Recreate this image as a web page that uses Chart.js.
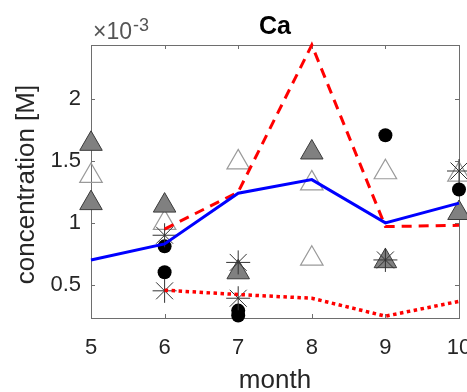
<!DOCTYPE html>
<html lang="en">
<head>
    <meta charset="UTF-8">
    <title>Ca concentration by month</title>
    <script src="https://cdn.jsdelivr.net/npm/chart.js"></script>
    <style>
        html, body { margin: 0; padding: 0; background: #fff; }
        #caChart { display: block; }
    </style>
</head>
<body>

    <canvas id="caChart" width="467" height="392"></canvas>

    <script>
        // values are in units of 1e-3 M
        const months = [5, 6, 7, 8, 9, 10];
        const meanLine = [0.70, 0.83, 1.24, 1.35, 1.00, 1.16];

        const modelMonths = [6, 7, 8, 9, 10];
        const upperLine = [0.95, 1.25, 2.44, 0.97, 0.98];
        const lowerLine = [0.455, 0.42, 0.39, 0.245, 0.365];

        const filledTriMonths = [5, 5, 6, 7, 8, 9, 10];
        const filledTriValues = [1.64, 1.16, 1.14, 0.60, 1.57, 0.69, 1.08];

        const openTriMonths = [5, 6, 7, 8, 8, 9, 10];
        const openTriValues = [1.38, 1.00, 1.49, 1.32, 0.71, 1.41, 1.39];

        const dotMonths = [6, 6, 7, 7, 9, 10];
        const dotValues = [0.81, 0.60, 0.29, 0.25, 1.71, 1.27];

        const starMonths = [6, 6, 7, 7, 9, 10];
        const starValues = [0.90, 0.45, 0.68, 0.39, 0.70, 1.42];

        const yTicks = [0.5, 1, 1.5, 2];

        const pts = (xs, ys) => xs.map((x, i) => ({ x: x, y: ys[i] }));

        const FONT = '"Liberation Sans", Arial, sans-serif';
        const AXIS_COLOR = '#6e6e6e';
        const TEXT_COLOR = '#262626';

        // box around the plot with inward ticks, plus title and axis labels
        const matlabAxes = {
            id: 'matlabAxes',
            beforeDatasetsDraw(chart) {
                const { ctx, chartArea: a, scales } = chart;
                ctx.save();
                ctx.strokeStyle = AXIS_COLOR;
                ctx.lineWidth = 1;
                ctx.strokeRect(Math.round(a.left) + 0.5, Math.round(a.top) + 0.5,
                    Math.round(a.right - a.left), Math.round(a.bottom - a.top));
                ctx.beginPath();
                scales.x.ticks.forEach(t => {
                    const px = Math.round(scales.x.getPixelForValue(t.value)) + 0.5;
                    ctx.moveTo(px, a.bottom); ctx.lineTo(px, a.bottom - 4);
                    ctx.moveTo(px, a.top); ctx.lineTo(px, a.top + 4);
                });
                scales.y.ticks.forEach(t => {
                    const py = Math.round(scales.y.getPixelForValue(t.value)) + 0.5;
                    ctx.moveTo(a.left, py); ctx.lineTo(a.left + 4, py);
                    ctx.moveTo(a.right, py); ctx.lineTo(a.right - 4, py);
                });
                ctx.stroke();
                ctx.restore();
            },
            afterDraw(chart) {
                const { ctx, chartArea: a } = chart;
                const cx = (a.left + a.right) / 2;
                ctx.save();
                ctx.fillStyle = '#000';
                ctx.textAlign = 'center';
                ctx.textBaseline = 'alphabetic';
                ctx.font = 'bold 25px ' + FONT;
                ctx.fillText('Ca', cx, 34);

                ctx.fillStyle = TEXT_COLOR;
                ctx.font = '26px ' + FONT;
                ctx.fillText('month', cx, 388);

                ctx.save();
                ctx.translate(34, (a.top + a.bottom) / 2 + 3);
                ctx.rotate(-Math.PI / 2);
                ctx.fillText('concentration [M]', 0, 0);
                ctx.restore();

                // exponent marker above the y axis
                ctx.fillStyle = '#555';
                ctx.textAlign = 'left';
                ctx.font = '23px ' + FONT;
                ctx.fillText('\u00d710', 93, 39);
                const w = ctx.measureText('\u00d710').width;
                ctx.font = '18px ' + FONT;
                ctx.fillText('-3', 93 + w + 1, 31);
                ctx.restore();
            }
        };

        const ctx = document.getElementById('caChart').getContext('2d');
        new Chart(ctx, {
            data: {
                datasets: [
                    {
                        type: 'line',
                        data: pts(months, meanLine),
                        borderColor: '#0000ff',
                        borderWidth: 3,
                        pointRadius: 0,
                        tension: 0,
                        clip: false,
                        order: 1
                    },
                    {
                        type: 'line',
                        data: pts(modelMonths, upperLine),
                        borderColor: '#ff0000',
                        borderWidth: 3,
                        borderDash: [10, 7],
                        pointRadius: 0,
                        tension: 0,
                        clip: false,
                        order: 1
                    },
                    {
                        type: 'line',
                        data: pts(modelMonths, lowerLine),
                        borderColor: '#ff0000',
                        borderWidth: 3.5,
                        borderDash: [3.5, 3.5],
                        pointRadius: 0,
                        tension: 0,
                        clip: false,
                        order: 1
                    },
                    {
                        type: 'scatter',
                        data: pts(starMonths, starValues),
                        pointStyle: 'star',
                        pointRadius: 12,
                        borderColor: '#333333',
                        borderWidth: 1,
                        clip: false,
                        order: 2
                    },
                    {
                        type: 'scatter',
                        data: pts(dotMonths, dotValues),
                        pointStyle: 'circle',
                        pointRadius: 7,
                        backgroundColor: '#000000',
                        borderColor: '#000000',
                        borderWidth: 0,
                        clip: false,
                        order: 3
                    },
                    {
                        type: 'scatter',
                        data: pts(filledTriMonths, filledTriValues),
                        pointStyle: 'triangle',
                        pointRadius: 13,
                        backgroundColor: '#808080',
                        borderColor: '#3a3a3a',
                        borderWidth: 1,
                        clip: false,
                        order: 4
                    },
                    {
                        type: 'scatter',
                        data: pts(openTriMonths, openTriValues),
                        pointStyle: 'triangle',
                        pointRadius: 13,
                        backgroundColor: 'rgba(255,255,255,0)',
                        borderColor: '#9a9a9a',
                        borderWidth: 1.2,
                        clip: false,
                        order: 5
                    }
                ]
            },
            options: {
                responsive: false,
                animation: false,
                events: [],
                layout: {
                    autoPadding: false,
                    padding: { left: 0, top: 45, right: 8, bottom: 0 }
                },
                plugins: {
                    legend: { display: false },
                    tooltip: { enabled: false },
                    title: { display: false }
                },
                scales: {
                    x: {
                        type: 'linear',
                        min: 5,
                        max: 10,
                        grid: { display: false, drawTicks: false },
                        border: { display: false },
                        ticks: {
                            stepSize: 1,
                            padding: 17,
                            color: TEXT_COLOR,
                            font: { family: FONT, size: 22 },
                            maxRotation: 0
                        },
                        afterFit(scale) {
                            scale.height = 74;
                            scale.paddingLeft = 0;
                            scale.paddingRight = 0;
                        }
                    },
                    y: {
                        type: 'linear',
                        min: 0.23,
                        max: 2.44,
                        grid: { display: false, drawTicks: false },
                        border: { display: false },
                        afterBuildTicks(scale) {
                            scale.ticks = yTicks.map(v => ({ value: v }));
                        },
                        ticks: {
                            padding: 10,
                            color: TEXT_COLOR,
                            font: { family: FONT, size: 22 },
                            callback: v => String(v)
                        },
                        afterFit(scale) {
                            scale.width = 91;
                            scale.paddingTop = 0;
                            scale.paddingBottom = 0;
                        }
                    }
                }
            },
            plugins: [matlabAxes]
        });
    </script>

</body>
</html>
